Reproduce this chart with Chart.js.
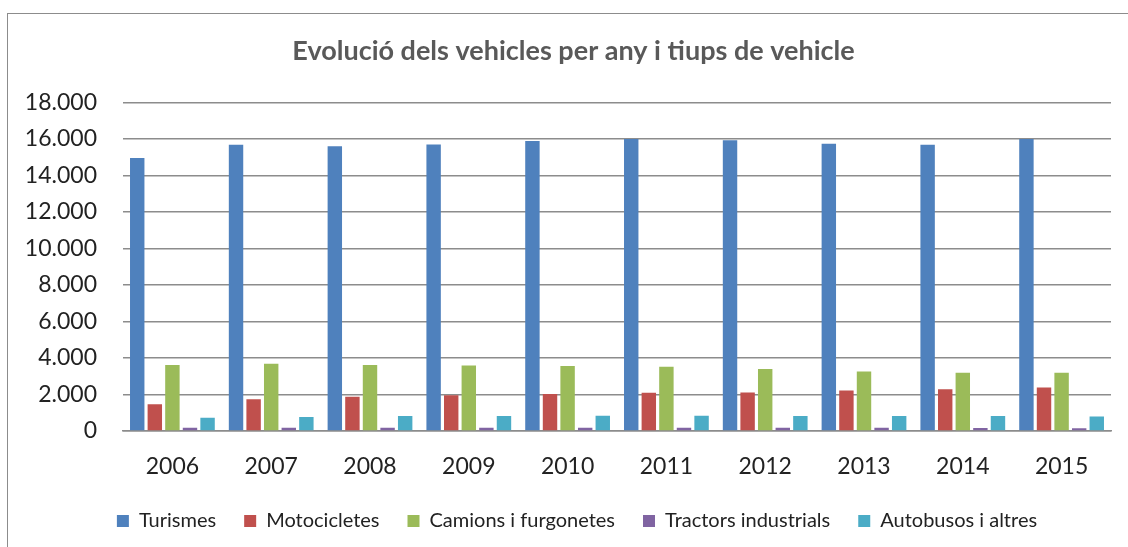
<!DOCTYPE html>
<html>
<head>
<meta charset="utf-8">
<script src="https://cdn.jsdelivr.net/npm/chart.js@4.4.0/dist/chart.umd.min.js"></script>
<style>
html,body{margin:0;padding:0;background:#fff;}
#wrap{position:relative;width:1128px;height:547px;overflow:hidden;}
#frame{position:absolute;left:7px;top:13px;width:1200px;height:600px;border:1.5px solid #8c8c8c;box-sizing:border-box;}
canvas{position:absolute;left:0;top:0;}
</style>
</head>
<body>
<div id="wrap">
<div id="frame"></div>
<canvas id="c" width="1128" height="547"></canvas>
</div>
<script>
const title = "Evolució dels vehicles per any i tiups de vehicle";
const years = ["2006","2007","2008","2009","2010","2011","2012","2013","2014","2015"];
const seriesNames = ["Turismes","Motocicletes","Camions i furgonetes","Tractors industrials","Autobusos i altres"];
const turismes     = [14950,15680,15600,15700,15880,16000,15920,15740,15680,16000];
const motocicletes = [1470,1740,1870,1960,2020,2090,2110,2220,2290,2380];
const camions      = [3610,3680,3610,3590,3560,3520,3390,3260,3190,3190];
const tractors     = [180,180,180,180,180,180,180,180,170,150];
const autobusos    = [720,770,820,820,840,840,820,820,820,800];
const yTickValues  = [0,2000,4000,6000,8000,10000,12000,14000,16000,18000];
const yTickLabels  = ["0","2.000","4.000","6.000","8.000","10.000","12.000","14.000","16.000","18.000"];
const colors = ["#4F81BD","#C0504D","#9BBB59","#8064A2","#4BACC6"];
const values = [turismes,motocicletes,camions,tractors,autobusos];

const FONT = "Lato, 'Open Sans', sans-serif";

// shift the title and legend boxes to centre them like the reference
const centerShift = {
  id: 'centerShift',
  afterLayout(chart) {
    if (chart.titleBlock) chart.titleBlock.left += 36;
    if (chart.legend) chart.legend.left += 43;
  }
};

new Chart(document.getElementById('c'), {
  type: 'bar',
  data: {
    labels: years,
    datasets: seriesNames.map((n,i)=>({
      label: n,
      data: values[i],
      backgroundColor: colors[i],
      borderWidth: 0,
      categoryPercentage: 0.89,
      barPercentage: 0.82
    }))
  },
  plugins: [centerShift],
  options: {
    responsive: false,
    animation: false,
    devicePixelRatio: 1,
    layout: { padding: { left: 0, right: 17, top: 0, bottom: 6 } },
    plugins: {
      title: {
        display: true,
        text: title,
        color: '#595959',
        font: { family: FONT, size: 27, weight: 'bold' },
        padding: { top: 35, bottom: 35 }
      },
      legend: {
        position: 'bottom',
        labels: {
          color: '#222',
          font: { family: FONT, size: 20 },
          boxWidth: 12,
          boxHeight: 12,
          padding: 28
        }
      },
      tooltip: { enabled: false }
    },
    scales: {
      x: {
        afterFit: s => { s.height = 52; },
        grid: { display: false, drawTicks: false },
        border: { display: true, color: '#8c8c8c', width: 1.5 },
        ticks: { color: '#222', font: { family: FONT, size: 23 }, padding: 22 }
      },
      y: {
        min: 0, max: 18000,
        afterBuildTicks: s => { s.ticks = yTickValues.map(v=>({value:v})); },
        afterFit: s => { s.width = 123; },
        grid: { color: '#8c8c8c', lineWidth: 1.5, drawTicks: false },
        border: { display: false },
        ticks: {
          color: '#222',
          font: { family: FONT, size: 23 },
          padding: 26,
          callback: v => yTickLabels[yTickValues.indexOf(v)]
        }
      }
    }
  }
});
</script>
</body>
</html>
